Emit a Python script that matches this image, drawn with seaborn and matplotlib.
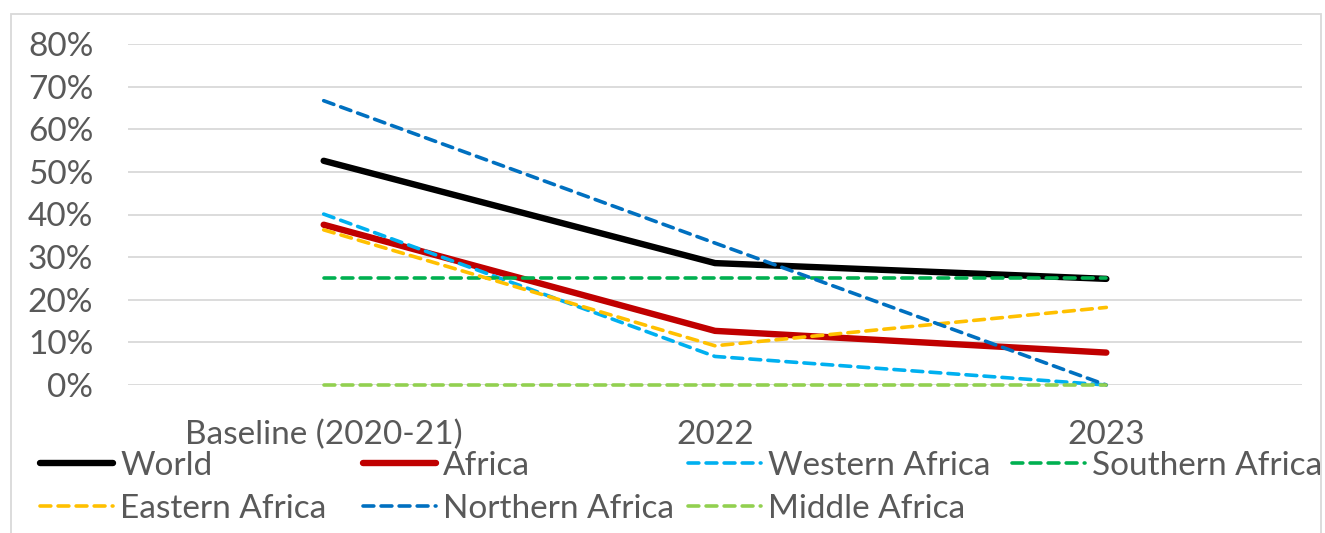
import matplotlib
matplotlib.use("Agg")
import matplotlib.pyplot as plt
import seaborn as sns
import pandas as pd
from matplotlib.patches import Rectangle
from matplotlib.ticker import PercentFormatter

# --- data -------------------------------------------------------------
periods = ["Baseline (2020-21)", "2022", "2023"]
series_names = ["World", "Africa", "Western Africa", "Southern Africa",
                "Eastern Africa", "Northern Africa", "Middle Africa"]
world = [0.526, 0.286, 0.249]
africa = [0.376, 0.127, 0.076]
western_africa = [0.401, 0.067, 0.0]
southern_africa = [0.25, 0.25, 0.25]
eastern_africa = [0.364, 0.092, 0.182]
northern_africa = [0.667, 0.333, 0.0]
middle_africa = [0.0, 0.0, 0.0]

values = [world, africa, western_africa, southern_africa,
          eastern_africa, northern_africa, middle_africa]

colors = ["#000000", "#C00000", "#00B0F0", "#00B050",
          "#FFC000", "#0070C0", "#92D050"]
widths = [4.6, 4.6, 2.6, 2.6, 2.6, 2.6, 2.6]
solid = [True, True, False, False, False, False, False]

df = pd.DataFrame(
    [(name, i, v) for name, vals in zip(series_names, values)
     for i, v in enumerate(vals)],
    columns=["series", "period", "share"],
)

# --- figure -----------------------------------------------------------
sns.set_theme(style="white")
plt.rcParams["font.family"] = ["Lato", "DejaVu Sans"]
text_color = "#595959"
fs = 24

fig = plt.figure(figsize=(13.25, 5.33), dpi=100)
ax = fig.add_axes([128 / 1325, 1 - 385 / 533, (1302 - 128) / 1325, (385 - 44) / 533])

dash_pattern = (3.0, 2.0)
sns.lineplot(
    data=df, x="period", y="share", hue="series", hue_order=series_names,
    palette=dict(zip(series_names, colors)),
    style="series", style_order=series_names,
    dashes={n: ("" if s else dash_pattern) for n, s in zip(series_names, solid)},
    legend=False, ax=ax, sort=False,
)

for line, lw in zip(ax.get_lines(), widths):
    line.set_linewidth(lw)
    line.set_solid_capstyle("round")
    line.set_dash_capstyle("round")
    line.set_clip_on(False)

ax.set_xlim(-0.5, 2.5)
ax.set_ylim(0, 0.8)
ax.set_yticks([i / 10 for i in range(9)])
ax.yaxis.set_major_formatter(PercentFormatter(1.0, decimals=0))
ax.set_xticks(range(len(periods)))
ax.set_xticklabels(periods)
ax.set_xlabel("")
ax.set_ylabel("")
ax.grid(axis="y", color="#D9D9D9", linewidth=1.3)
ax.grid(axis="x", visible=False)
ax.set_axisbelow(True)
for sp in ax.spines.values():
    sp.set_visible(False)
ax.tick_params(axis="y", length=0, pad=25, labelsize=fs, labelcolor=text_color)
ax.tick_params(axis="x", length=0, pad=25, labelsize=fs, labelcolor=text_color)

# chart frame
fig.patches.append(Rectangle((11 / 1325, -0.05), (1321 - 11) / 1325, 1.05 - 14 / 533,
                             transform=fig.transFigure, fill=False,
                             edgecolor="#D9D9D9", linewidth=1.3))

# legend: equal-width columns, four per row
handles = ax.get_lines()
col_x = [40, 363, 688, 1012]
row_y = [466, 509]
for k, (h, name) in enumerate(zip(handles, series_names)):
    r, c = divmod(k, 4)
    fig.legend([h], [name], loc="center left",
               bbox_to_anchor=(col_x[c] / 1325, 1 - row_y[r] / 533),
               frameon=False, fontsize=fs, labelcolor=text_color,
               handlelength=2.2, handletextpad=0.2,
               borderpad=0, borderaxespad=0)

fig.savefig("out.png", dpi=100)
